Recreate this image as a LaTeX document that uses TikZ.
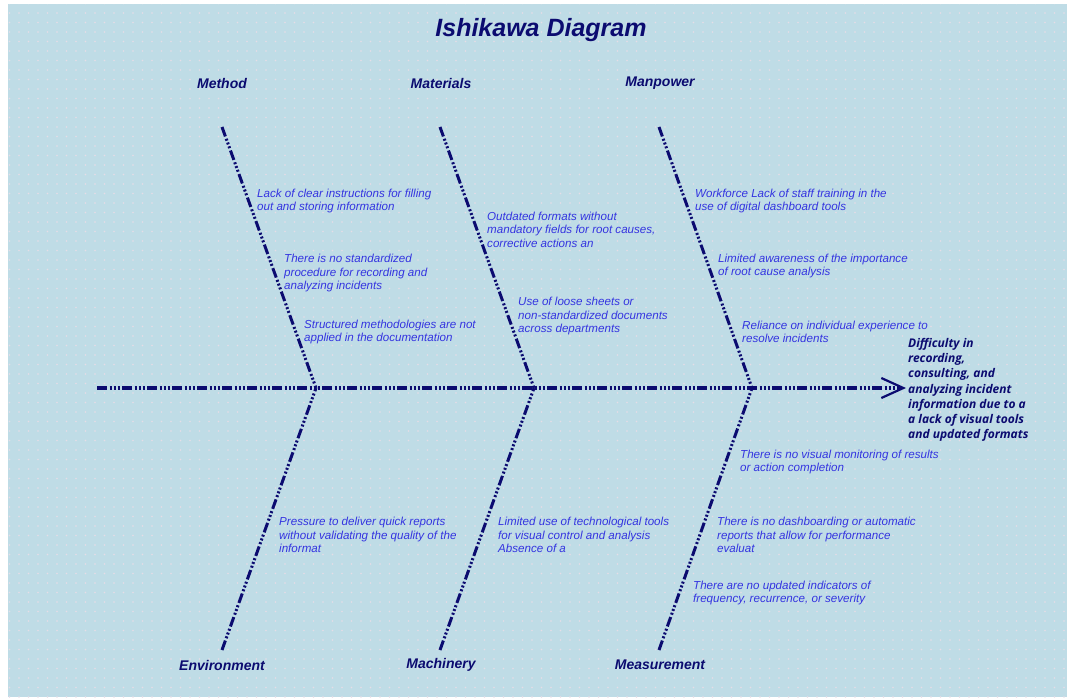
\documentclass[tikz,border=0pt]{standalone}
\usepackage{fontspec}
\setmainfont{Liberation Sans}
\newfontfamily\effectfont{Open Sans}
\usetikzlibrary{arrows.meta,patterns.meta}
\definecolor{navy}{HTML}{0B0B70}
\definecolor{causeblue}{HTML}{3434E0}
\definecolor{bgblue}{HTML}{BFDCE6}
\definecolor{dotpink}{HTML}{E6DDE6}
\tikzset{
  bone/.style={draw=navy, line width=3pt,
    dash pattern=on 10pt off 2.5pt on 2pt off 2pt on 2pt off 2pt on 2pt off 2.5pt},
  spine/.style={bone, line width=3.6pt,
    -{Straight Barb[length=22pt, width=20pt, line width=2.2pt]}},
  titlelabel/.style={font=\bfseries\itshape\fontsize{25}{28}\selectfont, text=navy},
  catlabel/.style={font=\bfseries\itshape\fontsize{14}{16}\selectfont, text=navy},
  cause/.style={anchor=west, inner sep=0pt, align=left, text=causeblue, yshift=-1.5pt,
    font=\itshape\fontsize{11.6}{13.5}\selectfont},
  effectbox/.style={anchor=west, inner sep=2pt, align=left, text=navy,
    font=\effectfont\bfseries\itshape\fontsize{12}{15.2}\selectfont}
}

\begin{document}
\begin{tikzpicture}[x=1pt, y=-1pt]
    \useasboundingbox (0,0) rectangle (1067,697);
    \fill[bgblue] (8,4) rectangle (1067,697);
    \fill[pattern={Dots[distance=9.5pt, radius=0.8pt]}, pattern color=dotpink] (8,4) rectangle (1067,697);

    \node[titlelabel] (title) at (541,30) {Ishikawa Diagram};

    % spine and effect
    \coordinate (tail) at (97,388);
    \node[effectbox] (effect) at (906,390) {Difficulty in\\recording,\\consulting, and\\analyzing incident\\information due to a\\a lack of visual tools\\and updated formats};
    \draw[spine] (tail) -- (effect.west |- tail);

    % categories
    \node[catlabel] (method) at (222,83) {Method};
    \node[catlabel] (materials) at (441,83) {Materials};
    \node[catlabel] (manpower) at (660,83) {Manpower};
    \node[catlabel] (environment) at (222,665) {Environment};
    \node[catlabel] (machinery) at (441,665) {Machinery};
    \node[catlabel] (measurement) at (660,665) {Measurement};

    % branches
    \coordinate (methodtop) at (222,127);
    \coordinate (materialstop) at (440,127);
    \coordinate (manpowertop) at (659,127);
    \coordinate (envbot) at (222,650);
    \coordinate (machbot) at (440,650);
    \coordinate (measbot) at (659,650);
    \coordinate (joinA) at (316,388);
    \coordinate (joinB) at (534,388);
    \coordinate (joinC) at (752,388);
    \draw[bone] (methodtop) -- (joinA);
    \draw[bone] (materialstop) -- (joinB);
    \draw[bone] (manpowertop) -- (joinC);
    \draw[bone] (envbot) -- (joinA);
    \draw[bone] (machbot) -- (joinB);
    \draw[bone] (measbot) -- (joinC);

    % causes
    \node[cause] (m1) at (257,199.5) {Lack of clear instructions for filling\\out and storing information};
    \node[cause] (m2) at (284,271.5) {There is no standardized\\procedure for recording and\\analyzing incidents};
    \node[cause] (m3) at (304,330.5) {Structured methodologies are not\\applied in the documentation};
    \node[cause] (t1) at (487,228) {Outdated formats without\\mandatory fields for root causes,\\corrective actions an};
    \node[cause] (t2) at (518,314.5) {Use of loose sheets or\\non-standardized documents\\across departments};
    \node[cause] (p1) at (695,199.5) {Workforce Lack of staff training in the\\use of digital dashboard tools};
    \node[cause] (p2) at (718,264.5) {Limited awareness of the importance\\of root cause analysis};
    \node[cause] (p3) at (742,330.5) {Reliance on individual experience to\\resolve incidents};
    \node[cause] (e1) at (279,533.5) {Pressure to deliver quick reports\\without validating the quality of the\\informat};
    \node[cause] (c1) at (498,533.5) {Limited use of technological tools\\for visual control and analysis\\Absence of a};
    \node[cause] (s1) at (740,460.5) {There is no visual monitoring of results\\or action completion};
    \node[cause] (s2) at (717,533.5) {There is no dashboarding or automatic\\reports that allow for performance\\evaluat};
    \node[cause] (s3) at (693,591.5) {There are no updated indicators of\\frequency, recurrence, or severity};
  \end{tikzpicture}
\end{document}
